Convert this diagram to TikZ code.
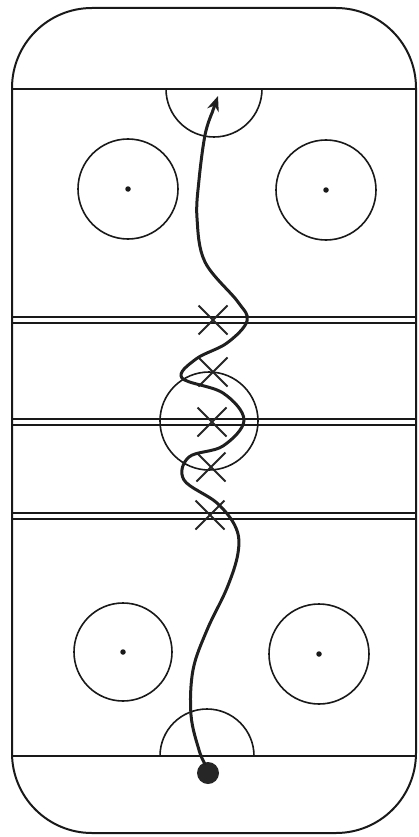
\documentclass[tikz,border=0pt]{standalone}
\usetikzlibrary{arrows.meta,shapes.misc}
\begin{document}
\begin{tikzpicture}[x=1pt,y=-1pt,
  rink/.style={draw=black!90, line width=2pt},
  thin/.style={draw=black!90, line width=1.6pt},
  xmark/.style={cross out, draw=black!85, line width=2pt, minimum size=27pt, inner sep=0pt},
  dotm/.style={circle, fill=black!90, minimum size=5.5pt, inner sep=0pt},
  route/.style={draw=black!88, line width=3pt, line cap=round}]
\useasboundingbox (0,0) rectangle (419,837);
% rink outline
\draw[rink, rounded corners=80pt] (12,8) rectangle (416,833);
% goal lines
\draw[thin] (12,89) -- (416,89);
\draw[thin] (12,756) -- (416,756);
% creases
\draw[thin] (166,89) arc[start angle=180, end angle=0, radius=48];
\draw[thin] (160,756) arc[start angle=180, end angle=360, radius=47];
% blue lines (double)
\draw[thin] (12,317) -- (416,317);
\draw[thin] (12,323) -- (416,323);
\draw[thin] (12,419) -- (416,419);
\draw[thin] (12,425) -- (416,425);
\draw[thin] (12,513) -- (416,513);
\draw[thin] (12,519) -- (416,519);
% faceoff circles
\draw[thin] (128,189) circle[radius=50];
\draw[thin] (326,190) circle[radius=50];
\draw[thin] (123,652) circle[radius=49];
\draw[thin] (319,654) circle[radius=50];
\draw[thin] (209,421) circle[radius=49];
\node[dotm] (d1) at (128,189) {};
\node[dotm] (d2) at (326,190) {};
\node[dotm] (d3) at (123,652) {};
\node[dotm] (d4) at (319,654) {};
% X marks
\node[xmark] (x1) at (213,320) {};
\node[xmark] (x2) at (213,372) {};
\node[xmark] (x3) at (212,422) {};
\node[xmark] (x4) at (211,467) {};
\node[xmark] (x5) at (210,515) {};
% puck
\node[circle, fill=black!85, minimum size=22pt, inner sep=0pt] (puck) at (208,773) {};
\coordinate (tip) at (218,96);
% skating route
\draw[route, -{Stealth[length=15pt,width=12pt]}] plot[smooth, tension=0.6] coordinates {
 (205,764) (199,750) (191,715) (193,670) (207,630) (227,588) (238,553) (236,528)
 (217,503) (184,480) (189,457) (223,446) (244,420) (223,393) (182,378)
 (196,359) (227,343) (247,321) (238,302) (205,262) (197,218) (199,180)
 (205,135) (212,113)} -- (tip);
\end{tikzpicture}
\end{document}
